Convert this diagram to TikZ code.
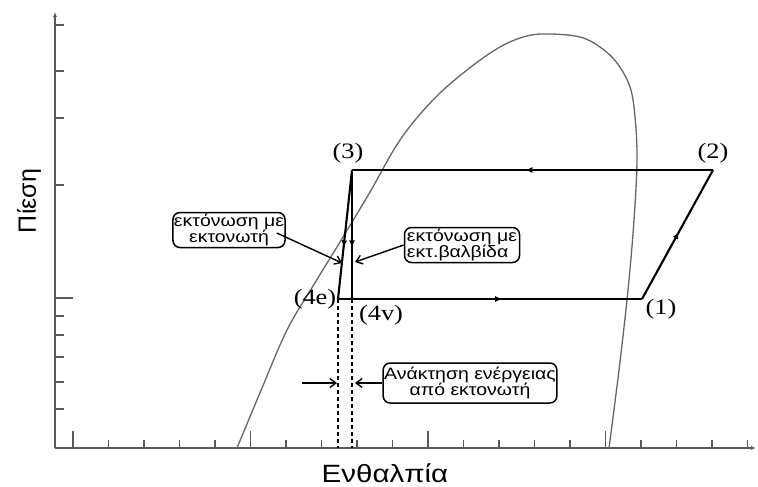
\documentclass[tikz,border=0pt]{standalone}
\usepackage{fontspec}
\setmainfont{Liberation Serif}
\setsansfont{Liberation Sans}
\newfontfamily\wsans{Liberation Sans}[FakeStretch=1.18]
\newfontfamily\wserif{Liberation Serif}[FakeStretch=1.2]
\usetikzlibrary{arrows.meta,decorations.markings}
\begin{document}
\begin{tikzpicture}[x=1pt,y=-1pt,
  axis/.style={draw=black!65,line width=1.4pt},
  tick/.style={draw=black!65,line width=1.3pt},
  cyc/.style={draw=black,line width=2.1pt},
  dome/.style={draw=black!60,line width=1.3pt},
  midarrow/.style={postaction={decorate},decoration={markings,mark=at position #1 with {\arrow{Latex[length=7pt,width=6pt]}}}},
  ptlabel/.style={font=\wserif\fontsize{22}{24}\selectfont,inner sep=0pt},
  callout/.style={draw=black,line width=1.5pt,rounded corners=7pt,font=\wsans\fontsize{16.5}{15.5}\selectfont,inner sep=1pt},
  pointer/.style={draw=black,line width=1.4pt,-{Straight Barb[length=6pt,width=9pt]}},
  axlabel/.style={font=\wsans\fontsize{25}{27}\selectfont,inner sep=0pt}
]
\useasboundingbox (0,0) rectangle (758,487);
% axes
\coordinate (O) at (55,448);
\coordinate (xend) at (756,448);
\coordinate (yend) at (55,12);
\draw[axis,-{Latex[length=5pt,width=4pt]}] (O) -- (xend);
\draw[axis,-{Latex[length=5pt,width=4pt]}] (O) -- (yend);
\foreach \i in {0,...,19}{
  \pgfmathsetmacro{\xx}{73+35.5*\i}
  \pgfmathtruncatemacro{\m}{mod(\i,5)}
  \ifnum\m=0
    \draw[tick] (\xx,448) -- (\xx,431);
  \else
    \draw[tick] (\xx,448) -- (\xx,440);
  \fi
}
\foreach \yy in {25,71,118,185,316,335,357,382,409}{
  \draw[tick] (55,\yy) -- (64,\yy);
}
\draw[tick] (55,298) -- (73,298);
% saturation dome
\draw[dome] plot[smooth,tension=0.6] coordinates {(237,448) (262,388) (287,330) (313,286) (340,242) (370,192) (400,140) (433,100) (467,70) (500,47) (527,36) (550,34) (580,37) (600,47) (617,63) (630,87) (635,117) (637,160) (634,220) (628,290) (619,370) (609,448)};
% cycle points
\coordinate (p3) at (352,170);
\coordinate (p2) at (713,170);
\coordinate (p1) at (642,299);
\coordinate (p4v) at (352,299);
\coordinate (p4e) at (338,299);
\coordinate (b4e) at (338,448);
\coordinate (b4v) at (352,448);
\draw[cyc,midarrow=0.54] (p4e) -- (p1);
\draw[cyc,midarrow=0.52] (p1) -- (p2);
\draw[cyc,midarrow=0.52] (p2) -- (p3);
\draw[cyc,midarrow=0.6] (p3) -- (p4e);
\draw[cyc,midarrow=0.6] (p3) -- (p4v);
% dashed
\draw[black,line width=1.6pt,dash pattern=on 4pt off 3pt] (p4e) -- (b4e);
\draw[black,line width=1.6pt,dash pattern=on 4pt off 3pt] (p4v) -- (b4v);
% labels
\node[ptlabel] (l3) at (348,153) {(3)};
\node[ptlabel] (l2) at (713,153) {(2)};
\node[ptlabel] (l1) at (661,309) {(1)};
\node[ptlabel] (l4e) at (315,299) {(4e)};
\node[ptlabel] (l4v) at (381,315) {(4v)};
% callouts
\node[callout,minimum width=106pt,minimum height=35pt,align=center] (box1) at (229,230) {εκτόνωση με\\εκτονωτή};
\node[callout,minimum width=115pt,minimum height=35pt,align=left] (box2) at (462,245) {εκτόνωση με\\εκτ.βαλβίδα};
\node[callout,minimum width=170pt,minimum height=40pt,align=center] (box3) at (470,383) {Ανάκτηση ενέργειας\\από εκτονωτή};
\coordinate (t1) at (342,263);
\coordinate (t2) at (355,262);
\coordinate (t3) at (355,383);
\coordinate (s4) at (302,383);
\coordinate (t4) at (337,383);
\draw[pointer] ([xshift=-9pt,yshift=-3pt]box1.east) -- (t1);
\draw[pointer] (box2.west) -- (t2);
\draw[pointer] (box3.west) -- (t3);
\draw[pointer] (s4) -- (t4);
% axis labels
\node[axlabel,rotate=90,font=\sffamily\fontsize{25}{27}\selectfont] (ylab) at (29,201) {Πίεση};
\node[axlabel,anchor=base] (xlab) at (385,482) {Ενθαλπία};
\end{tikzpicture}
\end{document}
